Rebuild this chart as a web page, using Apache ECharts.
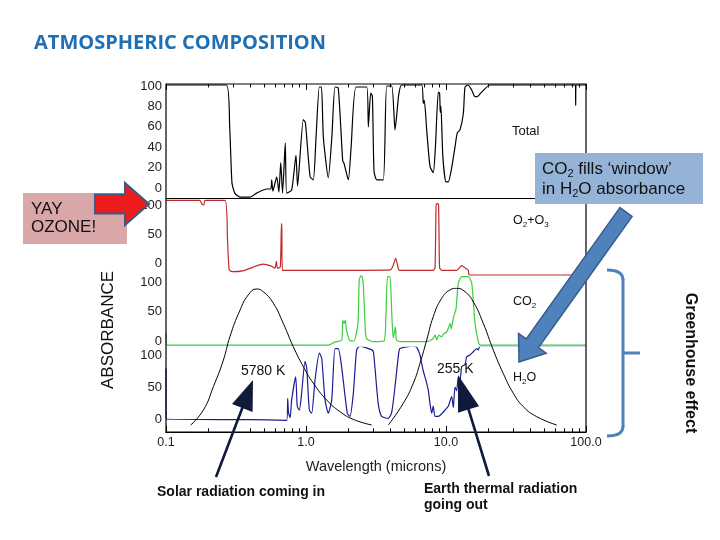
<!DOCTYPE html>
<html><head><meta charset="utf-8">
<script src="https://cdn.jsdelivr.net/npm/echarts@6/dist/echarts.min.js"></script>
<style>html,body{margin:0;padding:0;background:#fff}#c{width:720px;height:540px}</style>
</head><body><div id="c"></div>
<script>
// ---- tick labels ----
const xTickValues = [0.1, 1, 10, 100];
const xTickLabels = ['0.1', '1.0', '10.0', '100.0'];
const totalTicks = [0, 20, 40, 60, 80, 100];
const panelTicks = [0, 50, 100];

// ---- series values: [wavelength (microns), absorbance] ----
const totalData = [[0.1,101],[0.27,101],[0.285,60],[0.296,5],[0.31,-5],[0.338,-9],[0.398,-9],[0.444,-5],[0.524,-1],[0.56,-1],[0.569,8],[0.58,-3],[0.618,11],[0.64,-4],[0.66,25],[0.68,-5],[0.711,44],[0.728,-5],[0.79,-2],[0.848,32],[0.87,2],[0.957,67],[0.99,64],[1.07,11],[1.128,8],[1.18,50],[1.245,99],[1.29,99],[1.33,50],[1.443,10],[1.53,50],[1.611,99],[1.70,98],[1.828,27],[1.87,24],[2.006,8],[2.10,40],[2.276,99],[2.714,99],[2.788,60],[2.90,93],[2.98,90],[3.06,17],[3.2,8],[3.566,8],[3.77,100],[4.1,100],[4.323,57],[4.45,72],[4.6,92],[4.827,101],[6.7,101],[6.88,83],[7.0,86],[7.28,57],[7.69,21],[8.11,15],[8.4,40],[8.81,94],[9.0,93],[9.1,74],[9.2,80],[9.5,30],[10.0,6],[10.38,6],[10.98,20],[11.59,40],[12.04,54],[12.59,57],[13.3,73],[13.67,99],[14.36,101],[15.27,96],[16.11,89.5],[16.9,90],[18,94],[20.62,101],[84,101],[84.4,81],[84.8,101],[100,101]];
const o2o3Data = [[0.1,108],[0.175,108],[0.18,102],[0.186,100],[0.19,108],[0.264,108],[0.275,40],[0.283,-12],[0.30,-15],[0.36,-13],[0.42,-7],[0.495,-2],[0.56,-5],[0.60,-9],[0.615,3],[0.625,-9],[0.655,-7],[0.668,68],[0.672,60],[0.678,-12.6],[2.43,-12.6],[4.0,-12],[4.2,-4],[4.37,8],[4.5,-3],[4.64,-12.6],[8.11,-12.6],[8.35,-8],[8.5,100],[8.67,103],[8.85,100],[9.0,-8],[9.31,-12.6],[11.92,-12.6],[12.95,-4.6],[13.8,-9],[14.43,-12.6],[14.66,-20.7],[100,-20.7]];
const co2Data = [[0.1,13],[0.101,-7],[1.45,-7],[1.6,-2],[1.80,2],[1.83,35],[1.87,30],[1.9,35],[1.95,18],[2.05,1],[2.2,0],[2.35,30],[2.40,103],[2.48,112],[2.56,100],[2.65,20],[2.71,4],[3.0,-1],[3.6,0],[3.72,40],[3.82,109],[3.98,109],[4.1,45],[4.2,5],[4.35,24],[4.42,2],[4.69,-1],[7.28,-1],[8.0,3],[8.35,10],[8.6,2],[8.9,10],[9.3,7],[9.6,12],[10.1,15],[10.5,25],[10.7,30],[10.9,20],[11.3,40],[11.8,55],[12.24,98],[12.95,109],[14.43,109],[15.27,98],[16.11,30],[17.01,-1],[17.5,-7],[100,-7]];
const h2oData = [[0.1,79],[0.1005,0],[0.4,-1],[0.728,-2],[0.74,32],[0.75,10],[0.77,2],[0.79,30],[0.844,66],[0.866,20],[0.896,14],[0.93,40],[0.984,90],[1.012,80],[1.056,14],[1.098,9],[1.159,60],[1.245,103],[1.295,95],[1.367,30],[1.443,9],[1.527,30],[1.611,110],[1.70,110],[1.80,80],[1.972,9],[2.061,4],[2.178,40],[2.30,108],[2.43,114],[2.64,112],[2.95,108],[3.03,105],[3.11,80],[3.28,24],[3.47,4],[3.87,1],[4.09,10],[4.32,50],[4.56,97],[4.69,110],[5.84,114],[6.18,112],[6.52,100],[6.70,87],[6.88,75],[7.2,60],[7.47,45],[7.69,24],[7.91,9],[8.11,20],[8.35,4],[8.81,4],[9.31,8],[9.84,14],[10.38,20],[10.98,35],[11.28,18],[11.59,50],[11.92,44],[12.24,66],[12.59,60],[12.95,82],[13.67,85],[14.05,97],[14.84,100],[15.67,105],[16.56,110],[17.01,108],[17.49,114],[100,114]];
// normalised blackbody curves (relative units)
const sun5780Data = [[0.15,0.7],[0.185,11.6],[0.218,28.5],[0.257,47.8],[0.286,64.7],[0.338,84],[0.387,95],[0.444,99.3],[0.495,97.3],[0.584,89],[0.688,74.4],[0.811,57.5],[0.957,43],[1.128,31],[1.406,18.8],[1.749,10.4],[2.178,4.8],[2.946,0.7]];
const earth255Data = [[3.87,0.7],[4.95,16.4],[5.84,31],[6.52,45.4],[7.28,62.3],[8.11,79.2],[9.31,92.5],[10.68,98.6],[11.92,99.8],[13.67,97.3],[15.67,90],[18.46,74.4],[21.78,55],[25.66,38],[30.27,23.7],[35.65,14],[44.4,6.8],[61.8,0.7]];

// ---- layout ----
const L = 166, R = 586, FT = 84, FB = 432;
const FONT = 'Liberation Sans, Arial, sans-serif';
const panels = [
  {zero:188, k:1.02, min:-10, max:102, ticks: totalTicks},
  {zero:263, k:0.58, min:-22, max:112, ticks: panelTicks},
  {zero:341, k:0.59, min:-10, max:110, ticks: panelTicks},
  {zero:419, k:0.64, min:-20, max:112, ticks: panelTicks},
  {zero:426, k:1.38, min:0, max:100, ticks: null}
];
const grids = panels.map(p => ({left: L, width: R - L, top: p.zero - p.max * p.k, height: (p.max - p.min) * p.k}));
const yAxes = panels.map((p, i) => ({
  gridIndex: i, type: 'value', min: p.min, max: p.max, show: !!p.ticks,
  axisLine: {show: false, onZero: false}, axisTick: {show: false}, splitLine: {show: false},
  axisLabel: p.ticks ? {customValues: p.ticks, color: '#222', fontSize: 13, margin: 4, fontFamily: FONT} : {show: false}
}));
const minorTicks = [];
for (let d = 0.1; d < 99; d *= 10) for (let m = 2; m <= 9; m++) minorTicks.push(+(m * d).toPrecision(3));
function xLabel(v) {
  let best = 0;
  xTickValues.forEach((t, i) => { if (Math.abs(Math.log10(t) - Math.log10(v)) < Math.abs(Math.log10(xTickValues[best]) - Math.log10(v))) best = i; });
  return xTickLabels[best];
}
const baseX = {type: 'log', logBase: 10, min: 0.1, max: 100, splitLine: {show: false}};
const noLine = {show: false, onZero: false};
const xAxes = [
  Object.assign({}, baseX, {gridIndex: 0, position: 'top', axisLine: noLine, axisLabel: {show: false},
    axisTick: {show: true, inside: true, length: 6, customValues: xTickValues, lineStyle: {color: '#000'}}}),
  Object.assign({}, baseX, {gridIndex: 0, position: 'top', axisLine: noLine, axisLabel: {show: false},
    axisTick: {show: true, inside: true, length: 3.5, customValues: minorTicks, lineStyle: {color: '#000'}}}),
  Object.assign({}, baseX, {gridIndex: 1, position: 'top', axisLine: {show: true, onZero: false, lineStyle: {color: '#000', width: 1.2}}, axisLabel: {show: false}, axisTick: {show: false}}),
  Object.assign({}, baseX, {gridIndex: 2, show: false, axisLine: noLine}),
  Object.assign({}, baseX, {gridIndex: 3, position: 'bottom', axisLine: {show: true, onZero: false, lineStyle: {color: '#000', width: 1.2}},
    axisTick: {show: true, inside: true, length: 6, customValues: xTickValues, lineStyle: {color: '#000'}},
    axisLabel: {customValues: xTickValues, formatter: xLabel, color: '#222', fontSize: 12.5, margin: 4, fontFamily: FONT},
    name: 'Wavelength (microns)', nameLocation: 'middle', nameGap: 28,
    nameTextStyle: {color: '#222', fontSize: 14.5, fontFamily: FONT}}),
  Object.assign({}, baseX, {gridIndex: 3, position: 'bottom', axisLine: noLine, axisLabel: {show: false},
    axisTick: {show: true, inside: true, length: 3.5, customValues: minorTicks, lineStyle: {color: '#000'}}}),
  Object.assign({}, baseX, {gridIndex: 4, show: false, axisLine: noLine})
];
function line(data, xi, yi, color, width, smooth) {
  return {type: 'line', data, xAxisIndex: xi, yAxisIndex: yi, showSymbol: false, symbol: 'none', smooth,
    lineStyle: {color, width}, silent: true, animation: false};
}
const series = [
  line(totalData, 0, 0, '#000', 1.2, 0.2),
  line(o2o3Data, 2, 1, '#c0282a', 1.2, 0.2),
  line(h2oData, 4, 3, '#1c1c94', 1.2, 0.2),
  line(co2Data, 3, 2, '#3dcc3d', 1.2, 0.2),
  line(sun5780Data, 6, 4, '#000', 1, true),
  line(earth255Data, 6, 4, '#000', 1, true)
];

// ---- annotations ----
function arrowPoly(tail, tip, sh, hl, hh) {
  const dx = tip[0] - tail[0], dy = tip[1] - tail[1], len = Math.hypot(dx, dy);
  const ux = dx / len, uy = dy / len, nx = -uy, ny = ux;
  const bx = tip[0] - ux * hl, by = tip[1] - uy * hl;
  return [[tail[0] + nx * sh, tail[1] + ny * sh], [bx + nx * sh, by + ny * sh], [bx + nx * hh, by + ny * hh], tip,
          [bx - nx * hh, by - ny * hh], [bx - nx * sh, by - ny * sh], [tail[0] - nx * sh, tail[1] - ny * sh]];
}
function txt(text, x, y, size, opts) {
  return Object.assign({type: 'text', z: 100, x, y, style: Object.assign({text, fill: '#111', fontSize: size, fontFamily: FONT,
    textAlign: 'left', textVerticalAlign: 'middle'}, opts || {})});
}
function subTxt(text, x, y, size, subSize, lh) {
  return {type: 'text', z: 100, x, y, style: {text, fill: '#111', fontSize: size, fontFamily: FONT, lineHeight: lh,
    textAlign: 'left', textVerticalAlign: 'middle',
    rich: {a: {fontSize: size, fontFamily: FONT, lineHeight: lh, fill: '#111'},
           s: {fontSize: subSize, fontFamily: FONT, lineHeight: subSize, verticalAlign: 'bottom', fill: '#111'}}}};
}
const BR = '#4f81bd';
const graphic = [
  {type: 'rect', z: 90, shape: {x: L, y: FT, width: R - L, height: FB - FT}, style: {fill: 'none', stroke: '#000', lineWidth: 1.2}},
  txt('ATMOSPHERIC COMPOSITION', 34, 43, 20, {fill: '#1e6fb6', fontWeight: 'bold', fontFamily: 'Open Sans'}),
  txt('Total', 512, 131, 13),
  subTxt('{a|O}{s|2}{a|+O}{s|3}', 513, 221, 12.5, 8, 16),
  subTxt('{a|CO}{s|2}', 513, 302, 12.5, 8, 16),
  subTxt('{a|H}{s|2}{a|O}', 513, 378, 12.5, 8, 16),
  txt('5780 K', 241, 371.5, 14),
  txt('255 K', 437, 369, 14),
  // callout box
  {type: 'rect', z: 95, shape: {x: 535, y: 153, width: 168, height: 51}, style: {fill: '#95b3d7'}},
  subTxt('{a|CO}{s|2}{a| fills ‘window’}', 542, 169.5, 17, 11, 20),
  subTxt('{a|in H}{s|2}{a|O absorbance}', 542, 189.5, 17, 11, 20),
  {type: 'polygon', z: 110, shape: {points: arrowPoly([626, 212], [519, 362], 7.5, 23, 17)}, style: {fill: '#4f81bd', stroke: '#385d8a', lineWidth: 1.5}},
  // YAY OZONE
  {type: 'rect', z: 95, shape: {x: 23, y: 193, width: 104, height: 51}, style: {fill: '#d9a7a7'}},
  txt('YAY', 31, 209, 17),
  txt('OZONE!', 31, 227, 17),
  {type: 'polygon', z: 110, shape: {points: arrowPoly([95, 204], [149, 204], 9.5, 24, 21)}, style: {fill: '#ee1c1c', stroke: '#3b5a85', lineWidth: 2}},
  // axis title
  {type: 'text', z: 100, x: 108, y: 330, rotation: Math.PI / 2, style: {text: 'ABSORBANCE', fill: '#111', fontSize: 17, fontFamily: FONT, textAlign: 'center', textVerticalAlign: 'middle'}},
  // greenhouse bracket
  {type: 'bezierCurve', z: 100, shape: {x1: 607, y1: 270, cpx1: 623, cpy1: 270, x2: 623, y2: 280}, style: {fill: 'none', stroke: BR, lineWidth: 3}},
  {type: 'line', z: 100, shape: {x1: 623, y1: 279, x2: 623, y2: 427}, style: {stroke: BR, lineWidth: 3}},
  {type: 'bezierCurve', z: 100, shape: {x1: 623, y1: 426, cpx1: 623, cpy1: 436, x2: 607, y2: 436}, style: {fill: 'none', stroke: BR, lineWidth: 3}},
  {type: 'line', z: 100, shape: {x1: 623, y1: 353, x2: 640, y2: 353}, style: {stroke: BR, lineWidth: 3}},
  {type: 'text', z: 100, x: 690, y: 363, rotation: -Math.PI / 2, style: {text: 'Greenhouse effect', fill: '#111', fontSize: 16, fontWeight: 'bold', fontFamily: FONT, textAlign: 'center', textVerticalAlign: 'middle'}},
  // black arrows
  {type: 'polygon', z: 110, shape: {points: arrowPoly([216, 477], [253, 380], 1.3, 30, 11)}, style: {fill: '#0f1a3c'}},
  {type: 'polygon', z: 110, shape: {points: arrowPoly([489, 476], [458, 375], 1.3, 36, 11)}, style: {fill: '#0f1a3c'}},
  txt('Solar radiation coming in', 157, 492, 14, {fontWeight: 'bold'}),
  txt('Earth thermal radiation', 424, 489, 14, {fontWeight: 'bold'}),
  txt('going out', 424, 505.5, 14, {fontWeight: 'bold'})
];

const chart = echarts.init(document.getElementById('c'), null, {renderer: 'canvas'});
chart.setOption({
  backgroundColor: '#fff',
  animation: false,
  grid: grids,
  xAxis: xAxes,
  yAxis: yAxes,
  series,
  graphic
});
</script></body></html>
